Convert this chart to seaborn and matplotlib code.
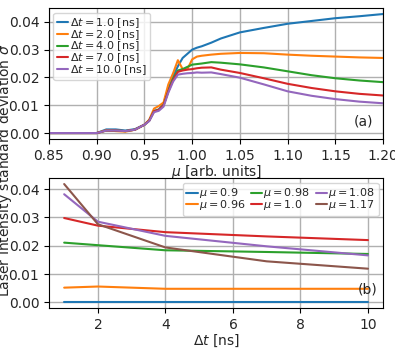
import numpy as np
import pandas as pd
import matplotlib
matplotlib.use("Agg")
import matplotlib.pyplot as plt
import seaborn as sns

# Panel (a): sigma vs mu for several Delta t
mu = [0.85, 0.88, 0.90, 0.91, 0.92, 0.93, 0.94, 0.95, 0.955, 0.96, 0.965, 0.97,
      0.975, 0.98, 0.985, 0.99, 0.995, 1.00, 1.005, 1.01, 1.02, 1.03, 1.05,
      1.075, 1.10, 1.125, 1.15, 1.175, 1.20]
dt_labels = [1.0, 2.0, 4.0, 7.0, 10.0]
sig_dt1 = [0, 0, 0, 0.0013, 0.0013, 0.0009, 0.0014, 0.0030, 0.0045, 0.0080, 0.0085, 0.0105,
           0.0160, 0.0205, 0.0240, 0.0270, 0.0285, 0.0300, 0.0307, 0.0312, 0.0325, 0.0340, 0.0362,
           0.0378, 0.0393, 0.0403, 0.0413, 0.0420, 0.0428]
sig_dt2 = [0, 0, 0, 0.0010, 0.0007, 0.0005, 0.0012, 0.0030, 0.0048, 0.0088, 0.0097, 0.0110,
           0.0175, 0.0215, 0.0262, 0.0230, 0.0230, 0.0265, 0.0275, 0.0278, 0.0282, 0.0285, 0.0288,
           0.0287, 0.0282, 0.0278, 0.0275, 0.0272, 0.0270]
sig_dt4 = [0, 0, 0, 0.0009, 0.0009, 0.0007, 0.0012, 0.0030, 0.0045, 0.0078, 0.0083, 0.0100,
           0.0150, 0.0195, 0.0225, 0.0230, 0.0238, 0.0246, 0.0248, 0.0250, 0.0255, 0.0253, 0.0247,
           0.0236, 0.0222, 0.0208, 0.0197, 0.0189, 0.0183]
sig_dt7 = [0, 0, 0, 0.0009, 0.0009, 0.0007, 0.0012, 0.0030, 0.0045, 0.0078, 0.0083, 0.0100,
           0.0150, 0.0190, 0.0220, 0.0225, 0.0228, 0.0230, 0.0233, 0.0235, 0.0236, 0.0228, 0.0216,
           0.0197, 0.0177, 0.0162, 0.0150, 0.0141, 0.0135]
sig_dt10 = [0, 0, 0, 0.0009, 0.0009, 0.0007, 0.0012, 0.0030, 0.0043, 0.0075, 0.0080, 0.0095,
            0.0145, 0.0185, 0.0210, 0.0213, 0.0215, 0.0216, 0.0218, 0.0217, 0.0218, 0.0212, 0.0199,
            0.0175, 0.0150, 0.0134, 0.0122, 0.0113, 0.0107]

# Panel (b): sigma vs Delta t for several mu
dt = [1, 2, 4, 7, 10]
mu_labels = [0.9, 0.96, 0.98, 1.0, 1.08, 1.17]
sig_mu090 = [0.0001, 0.0001, 0.0001, 0.0001, 0.0001]
sig_mu096 = [0.0052, 0.0056, 0.0048, 0.0048, 0.0048]
sig_mu098 = [0.0211, 0.0202, 0.0184, 0.0178, 0.0171]
sig_mu100 = [0.0298, 0.0271, 0.0248, 0.0233, 0.0220]
sig_mu108 = [0.0382, 0.0285, 0.0235, 0.0198, 0.0166]
sig_mu117 = [0.0418, 0.0276, 0.0194, 0.0145, 0.0119]

top = pd.DataFrame({"mu": mu * 5,
                    "sigma": sig_dt1 + sig_dt2 + sig_dt4 + sig_dt7 + sig_dt10,
                    "dt": np.repeat(dt_labels, len(mu))})
bot = pd.DataFrame({"dt": dt * 6,
                    "sigma": sig_mu090 + sig_mu096 + sig_mu098 + sig_mu100 + sig_mu108 + sig_mu117,
                    "mu": np.repeat(mu_labels, len(dt))})

sns.set_style("ticks", {"axes.grid": True, "grid.color": "#b0b0b0",
                        "axes.edgecolor": "black"})
plt.rcParams["grid.linewidth"] = 1.0
pal = sns.color_palette("tab10")

fig = plt.figure(figsize=(3.95, 3.51), dpi=100)
ax1 = fig.add_axes([0.124, 0.604, 0.846, 0.373])
ax2 = fig.add_axes([0.124, 0.1225, 0.846, 0.370])

for i, d in enumerate(dt_labels):
    sub = top[top["dt"] == d]
    sns.lineplot(data=sub, x="mu", y="sigma", color=pal[i], lw=1.5, ax=ax1,
                 label=r"$\Delta t = %.1f$ [ns]" % d)
ax1.set_xlim(0.85, 1.20)
ax1.set_xlabel(r"$\mu$ [arb. units]", labelpad=0.5)
ax1.set_ylabel("")
ax1.legend(loc="upper left", fontsize=8, labelspacing=-0.2, handlelength=1.0,
           handletextpad=0.1, borderpad=0.35, borderaxespad=0.4)
ax1.text(0.94, 0.13, "(a)", transform=ax1.transAxes, ha="center", va="center")

for i, m in enumerate(mu_labels):
    sub = bot[bot["mu"] == m]
    sns.lineplot(data=sub, x="dt", y="sigma", color=pal[i], lw=1.5, ax=ax2,
                 label=r"$\mu = %s$" % m)
ax2.set_xlabel(r"$\Delta t$ [ns]", labelpad=0.5)
ax2.set_ylabel("")
ax2.legend(loc="upper right", ncol=3, fontsize=8, labelspacing=-0.2, handlelength=1.0,
           handletextpad=0.1, columnspacing=0.5, borderpad=0.35, borderaxespad=0.4)
ax2.text(0.955, 0.14, "(b)", transform=ax2.transAxes, ha="center", va="center")

for ax in (ax1, ax2):
    ax.set_yticks([0, 0.01, 0.02, 0.03, 0.04])
    ax.tick_params(direction="out", length=3.5, width=0.8, color="black")

fig.text(0.013, 0.515, r"Laser Intensity standard deviation $\sigma$", rotation=90,
         ha="center", va="center", fontsize=10)

fig.savefig("out.png", dpi=100)
